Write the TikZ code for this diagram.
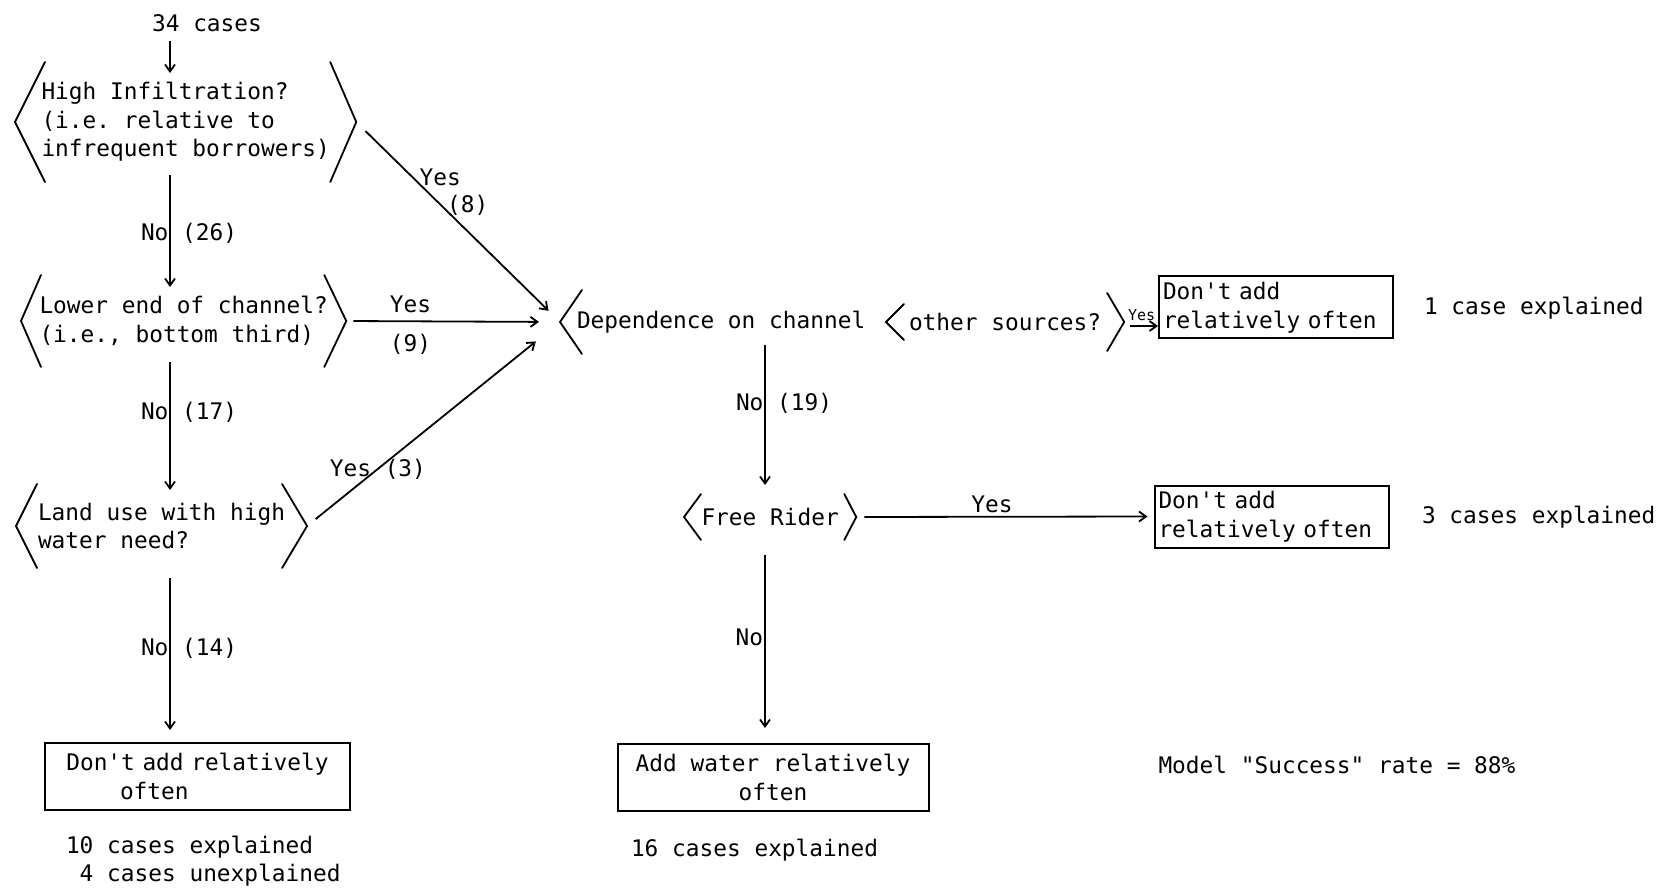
\documentclass[tikz,border=0pt]{standalone}
\usepackage{fontspec}
\setmonofont{DejaVu Sans Mono}
\usetikzlibrary{arrows.meta,calc}

% angle-bracket sides of a decision: node, depth of the bracket, half height
\newcommand\brkL[3]{\draw[bline] ($(#1.west)+(#2,-#3)$) -- (#1.west) -- ($(#1.west)+(#2,#3)$);}
\newcommand\brkR[3]{\draw[bline] ($(#1.east)+(-#2,-#3)$) -- (#1.east) -- ($(#1.east)+(-#2,#3)$);}

\tikzset{
  txt/.style={font=\ttfamily\fontsize{22.8}{28.5}\selectfont, inner sep=0pt, outer sep=0pt, align=left},
  small/.style={font=\ttfamily\fontsize{15}{17}\selectfont, inner sep=0pt},
  bline/.style={line width=1.8pt, line cap=round},
  arr/.style={line width=1.8pt, -{Straight Barb[length=7pt,width=10pt]}},
  decision/.style={txt, inner ysep=0pt, anchor=west},
  outcome/.style={txt, draw, line width=2pt},
  nolab/.style={txt, anchor=west, xshift=-29pt},
}

\begin{document}
\begin{tikzpicture}[x=1pt, y=-1pt]
\fill[white] (0,0) rectangle (1667,890);
\useasboundingbox (0,0) rectangle (1667,890);

% ---- decisions ----
\node[txt] (n34) at (207,23) {34 cases};

\node[decision, inner xsep=26.5pt, minimum height=120pt] (h1) at (15,122)
  {High Infiltration?\\(i.e. relative to\\infrequent borrowers)};
\brkL{h1}{30}{60} \brkR{h1}{26}{60}

\node[decision, inner xsep=18.5pt, minimum height=92pt] (h2) at (21,321)
  {Lower end of channel?\\(i.e., bottom third)};
\brkL{h2}{20}{46} \brkR{h2}{22}{46}

\node[decision, inner xsep=22pt, minimum height=84pt] (h3) at (16,526)
  {Land use with high\\water need?};
\brkL{h3}{21}{42} \brkR{h3}{25}{42}

\node[decision, inner xsep=17pt, minimum height=64pt] (dep) at (560,322) {Dependence on channel};
\brkL{dep}{22}{32}
\node[decision, inner xsep=23pt, minimum height=64pt] (oth) at (886,322) {other sources?};
\brkL{oth}{18}{18} \brkR{oth}{17}{29}

\node[decision, inner xsep=17.5pt, minimum height=46pt] (fr) at (684,517) {Free Rider};
\brkL{fr}{17}{23} \brkR{fr}{12}{23}

% ---- outcomes ----
\node[outcome, text width=290pt, inner xsep=7.5pt, minimum height=67pt] (l1) at (197.3,776.5)
  {\hspace*{14pt}Don't add relatively\\\hspace*{67.7pt}often};
\node[outcome, align=center, minimum width=311pt, minimum height=67pt] (l2) at (773,777.5)
  {Add water relatively\\often};
\node[outcome, text width=226pt, inner xsep=4pt, minimum height=62pt] (b1) at (1276,307.5)
  {Don't add\\relatively often};
\node[outcome, text width=226pt, inner xsep=4pt, minimum height=62pt] (b2) at (1271.5,516.5)
  {Don't add\\relatively often};

% ---- tallies ----
\node[txt, anchor=west] (e1) at (66,861) {10 cases explained\\\hphantom{1}4 cases unexplained};
\node[txt, anchor=west] (e2) at (631,850) {16 cases explained};
\node[txt, anchor=west] (e3) at (1424,308) {1 case explained};
\node[txt, anchor=west] (e4) at (1422,517) {3 cases explained};
\node[txt, anchor=west] (rate) at (1158.5,765) {Model "Success" rate = 88\%};

% ---- connectors ----
\coordinate (colA) at (170,0);
\coordinate (colB) at (765,0);

\draw[arr, shorten <=9pt, shorten >=-11pt] (n34.south -| colA) -- (h1.north -| colA);
\draw[arr, shorten <=-7pt, shorten >=-12pt] (h1.south -| colA)
  -- node[nolab, pos=.55]{No (26)} (h2.north -| colA);
\draw[arr, shorten <=-5pt, shorten >=-6pt] (h2.south -| colA)
  -- node[nolab, pos=.39]{No (17)} (h3.north -| colA);
\draw[arr, shorten <=10pt, shorten >=13pt] (h3.south -| colA)
  -- node[nolab, pos=.457]{No (14)} (l1.north -| colA);

\draw[arr, shorten <=13pt, shorten >=16pt] (h1.east)
  -- node[txt, pos=.275, xshift=28pt]{Yes} node[txt, pos=.415, xshift=27pt]{(8)} (dep.west);
\draw[arr, shorten <=7pt, shorten >=21pt] (h2.east)
  -- node[txt, pos=.3, yshift=17pt]{Yes} node[txt, pos=.3, yshift=-23pt]{(9)} (dep.west);
\draw[arr, shorten <=11pt, shorten >=31pt] (h3.east)
  -- node[txt, pos=.28]{Yes (3)} (dep.west);

\draw[arr, shorten <=-9pt, shorten >=9pt] (dep.south -| colB)
  -- node[nolab, pos=.35]{No (19)} (fr.north -| colB);
\draw[arr, shorten <=15pt, shorten >=16pt] (fr.south -| colB)
  -- node[txt, pos=.475, anchor=east, xshift=-2pt]{No} (l2.north -| colB);
\draw[arr, shorten <=8pt, shorten >=7pt] (fr.east)
  -- node[txt, pos=.455, yshift=12pt]{Yes} (b2.west);
\draw[arr, shorten <=6pt, shorten >=1pt] ([yshift=-4pt]oth.east)
  -- node[small, yshift=11pt]{Yes} ([yshift=-4pt]oth.east -| b1.west);
\end{tikzpicture}
\end{document}
